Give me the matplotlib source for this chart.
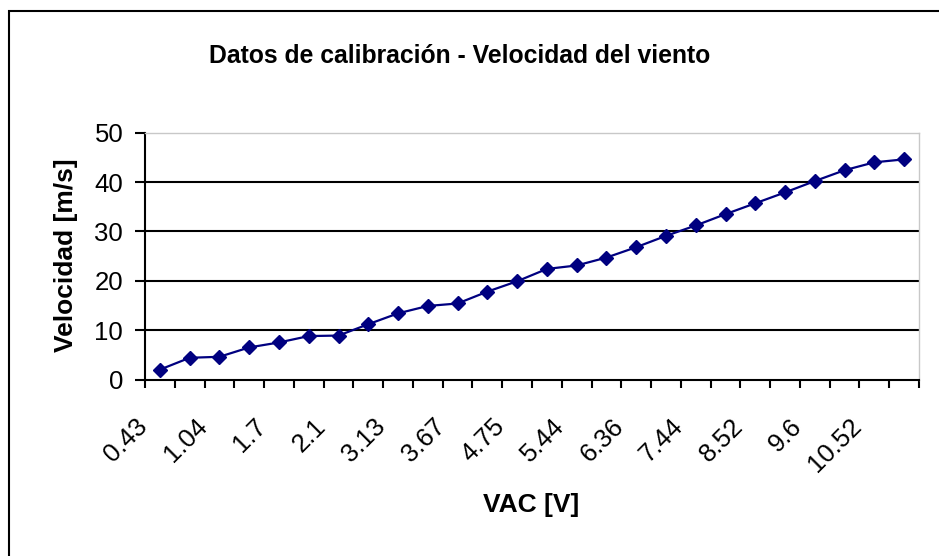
import matplotlib
matplotlib.use("Agg")
import matplotlib.pyplot as plt
from matplotlib.patches import Rectangle
from matplotlib.transforms import ScaledTranslation
import numpy as np

plt.rcParams['font.family'] = ['Liberation Sans', 'DejaVu Sans']

# Data (categorical x axis: 26 categories, every other labelled)
velocidad = [2.0, 4.4, 4.6, 6.5, 7.5, 8.8, 8.9, 11.2, 13.4, 14.9, 15.4, 17.8, 19.9,
             22.4, 23.1, 24.7, 26.8, 29.1, 31.2, 33.5, 35.7, 37.9, 40.2, 42.4, 44.0, 44.6]
tick_labels = ["0.43", "1.04", "1.7", "2.1", "3.13", "3.67", "4.75",
               "5.44", "6.36", "7.44", "8.52", "9.6", "10.52"]
label_step = 2
y_ticks = [0, 10, 20, 30, 40, 50]

title = "Datos de calibración - Velocidad del viento"
xlabel = "VAC [V]"
ylabel = "Velocidad [m/s]"

W, H = 939, 556
fig = plt.figure(figsize=(W / 100, H / 100), dpi=100)
fig.patch.set_facecolor('white')

# outer chart border (only top/left visible in the crop)
fig.add_artist(Rectangle((8.5 / W, -0.1), 1.2, 1.1 - 10.5 / H, transform=fig.transFigure,
                         fill=False, edgecolor='black', linewidth=1.5))

ax = fig.add_axes([145 / W, 1 - 379.5 / H, (919 - 145) / W, (379.5 - 132.7) / H])

n = len(velocidad)
x = np.arange(n) + 0.5
ax.plot(x, velocidad, color='#000080', linewidth=1.6, marker='D', markersize=7.4,
        markeredgewidth=1.0, markerfacecolor='#000080', markeredgecolor='#000080',
        zorder=5, clip_on=False)

ax.set_xlim(0, n)
ax.set_ylim(0, 50)
ax.set_yticks(y_ticks)
ax.set_yticklabels([str(v) for v in y_ticks], fontsize=18.5)

for yv in y_ticks[1:-1]:
    ax.axhline(yv, color='black', linewidth=1.5, zorder=1)

ax.set_xticks(np.arange(n + 1))
ax.set_xticklabels([])
ax.set_xticks(x[::label_step], minor=True)
ax.set_xticklabels(tick_labels, minor=True, rotation=45, ha='right', va='center_baseline',
                   rotation_mode='anchor', fontsize=18.5)
ax.tick_params(axis='x', which='minor', length=0, pad=30)
ax.tick_params(axis='x', which='major', length=6, width=1.5, direction='out')
ax.tick_params(axis='y', length=7.2, width=1.5, direction='out', pad=8.5)
off = ScaledTranslation(-18 / 100, 0, fig.dpi_scale_trans)
for lab in ax.get_xticklabels(minor=True):
    lab.set_transform(lab.get_transform() + off)

for s in ['left', 'bottom']:
    ax.spines[s].set_color('black')
    ax.spines[s].set_linewidth(1.5)
for s in ['top', 'right']:
    ax.spines[s].set_color('#c8c8c8')
    ax.spines[s].set_linewidth(1.0)

fig.text(459.5 / W, 1 - 63.3 / H, title, ha='center', va='baseline', fontsize=17.8,
         fontweight='bold')
fig.text(531 / W, 1 - 512 / H, xlabel, ha='center', va='baseline', fontsize=19,
         fontweight='bold')
fig.text(66 / W, 1 - 255.5 / H, ylabel, ha='center', va='center', fontsize=19,
         fontweight='bold', rotation=90)

fig.savefig("out.png", dpi=100, facecolor='white')
